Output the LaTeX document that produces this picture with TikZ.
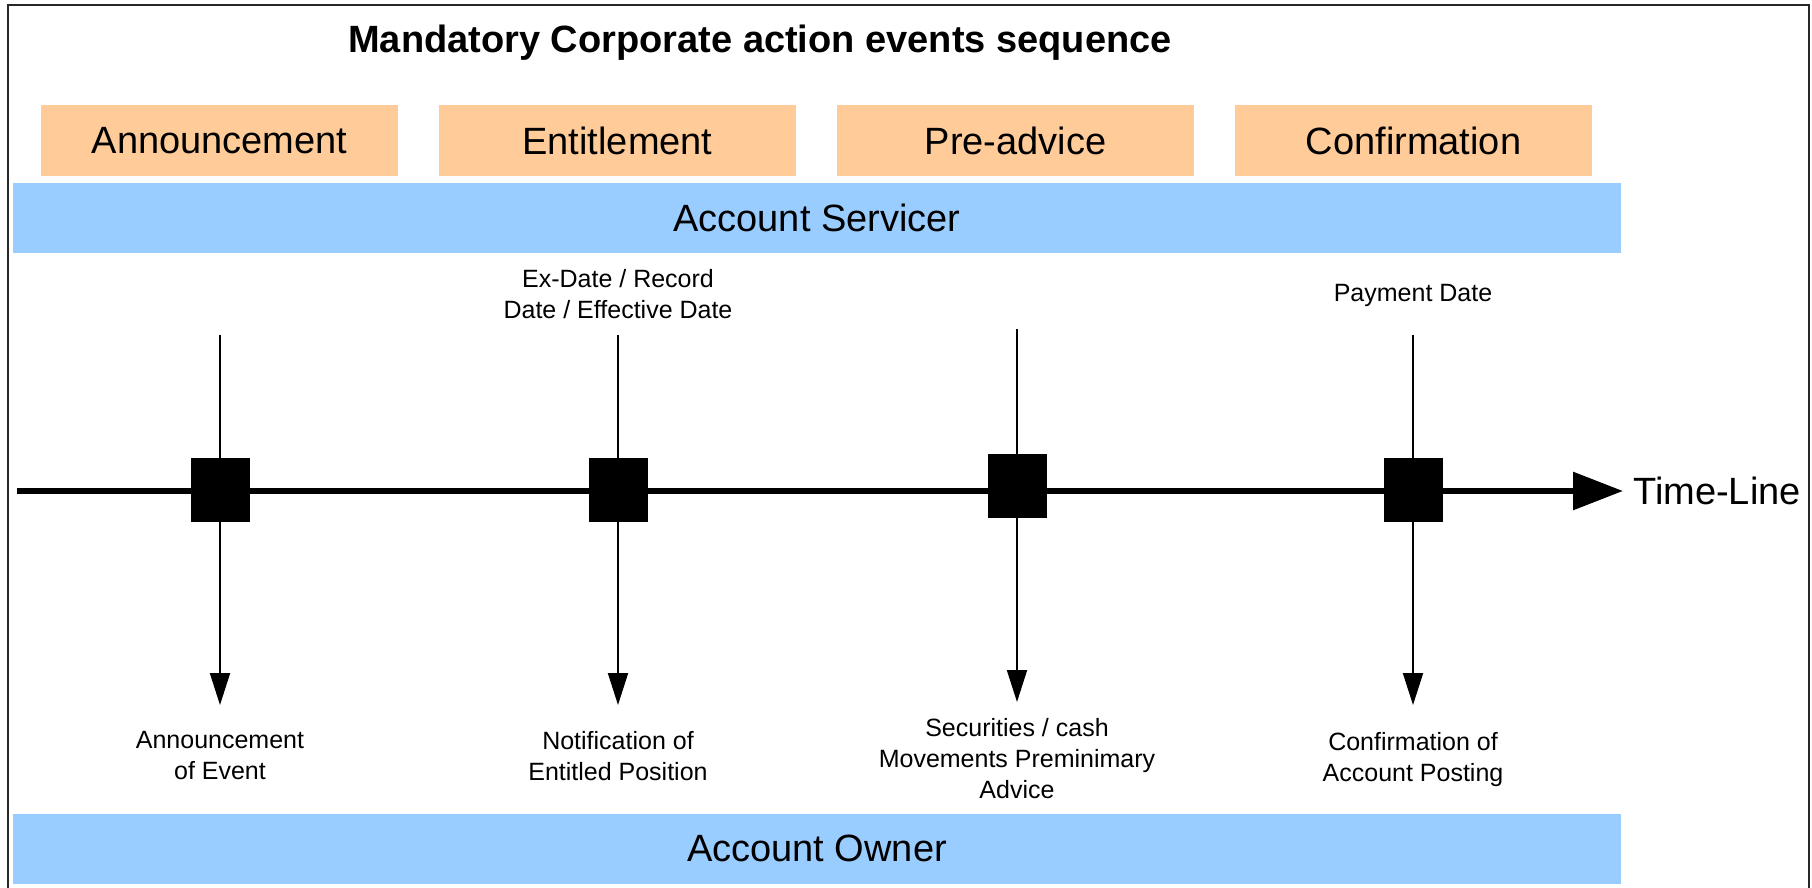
\documentclass[tikz,border=0pt]{standalone}
\usepackage{fontspec}
\setmainfont{Liberation Sans}
\usepackage{tikz}
\usetikzlibrary{arrows.meta,positioning}
\definecolor{phaseorange}{RGB}{255,204,153}
\definecolor{partyblue}{RGB}{153,204,255}
\definecolor{framegray}{RGB}{40,40,40}

\tikzset{
  phase/.style={fill=phaseorange, minimum width=357pt, minimum height=71pt, inner sep=0pt, font=\fontsize{38}{44}\selectfont},
  party/.style={fill=partyblue, minimum width=1608pt, minimum height=70pt, inner sep=0pt, font=\fontsize{38}{44}\selectfont},
  event/.style={fill=black, minimum width=59pt, minimum height=64pt, inner sep=0pt},
  note/.style={align=center, font=\fontsize{25}{31}\selectfont},
  flow/.style={line width=2pt, -{Triangle[length=32pt,width=20pt]}}
}

\begin{document}
\begin{tikzpicture}[x=1pt, y=-1pt, node distance=398pt]
        \useasboundingbox (0,0) rectangle (1812,888);
        \draw[framegray, line width=2pt] (8,888) -- (8,5) -- (1809,5) -- (1809,888);

        \node[font=\fontsize{38}{44}\selectfont\bfseries] (title) at (760,43) {Mandatory Corporate action events sequence};

        \node[phase] (ann) at (219.5,140.5) {Announcement};
        \node[phase] (ent) [right of=ann] {Entitlement};
        \node[phase] (pre) [right of=ent] {Pre-advice};
        \node[phase] (conf) [right of=pre] {Confirmation};

        \node[party] (servicer) at (817,218) {Account Servicer};
        \node[party] (owner) at (817,848.5) {Account Owner};

        % time line
        \coordinate (tstart) at (17,491);
        \node[anchor=west, inner xsep=10pt, inner ysep=0pt, font=\fontsize{38}{44}\selectfont] (tline) at (1623,491) {Time-Line};
        \draw[line width=6pt, -{Triangle[length=50pt,width=37pt]}] (tstart) -- (tline);

        \node[event] (ev1) at (220,490) {};
        \node[event] (ev2) at (618,490) {};
        \node[event] (ev3) at (1017,486) {};
        \node[event] (ev4) at (1413,490) {};

        \node[note] (up2) at (618,294) {Ex-Date / Record\\Date / Effective Date};
        \node[note] (up4) at (1413,295) {Payment Date};

        \node[note] (dn1) at (220,756) {Announcement\\of Event};
        \node[note] (dn2) at (618,756) {Notification of\\Entitled Position};
        \node[note] (dn3) at (1017,759) {Securities / cash\\Movements Preminimary\\Advice};
        \node[note] (dn4) at (1413,760) {Confirmation of\\Account Posting};

        \coordinate (top1) at (220,335);
        \coordinate (top2) at (618,335);
        \coordinate (top3) at (1017,329);
        \coordinate (top4) at (1413,335);
        \coordinate (tip1) at (220,705);
        \coordinate (tip2) at (618,705);
        \coordinate (tip3) at (1017,702);
        \coordinate (tip4) at (1413,705);

        \draw[line width=2pt] (top1) -- (ev1);
        \draw[line width=2pt] (top2) -- (ev2);
        \draw[line width=2pt] (top3) -- (ev3);
        \draw[line width=2pt] (top4) -- (ev4);
        \draw[flow] (ev1) -- (tip1);
        \draw[flow] (ev2) -- (tip2);
        \draw[flow] (ev3) -- (tip3);
        \draw[flow] (ev4) -- (tip4);
\end{tikzpicture}
\end{document}
